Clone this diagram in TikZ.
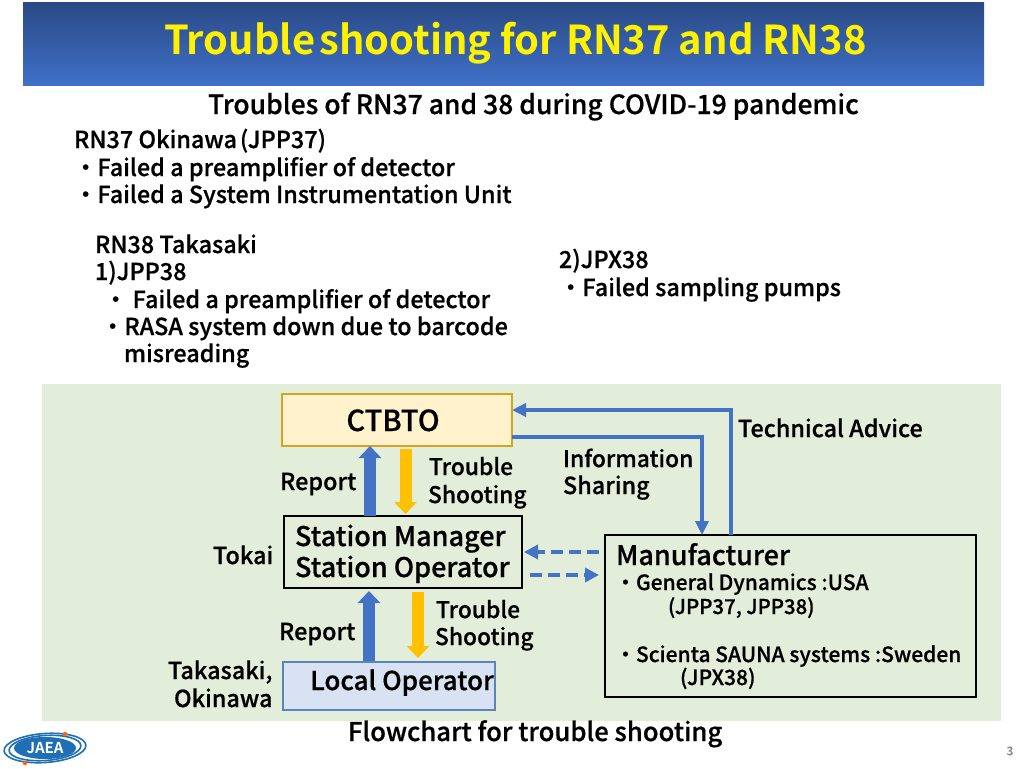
\documentclass[tikz,border=0pt]{standalone}
\usepackage{fontspec}
\setmainfont{Noto Sans CJK JP}[UprightFont=* Medium,BoldFont=* Bold,UprightFeatures={FakeBold=0.6}]
\usetikzlibrary{arrows.meta,shadings}
\definecolor{bandtop}{HTML}{2A4A86}
\definecolor{bandbot}{HTML}{3F70C8}
\definecolor{panel}{HTML}{E2EEDA}
\definecolor{arrowblue}{HTML}{4472C4}
\definecolor{arrowgold}{HTML}{FFC000}
\definecolor{ctfill}{HTML}{FFF2CC}
\definecolor{ctline}{HTML}{D6A520}
\definecolor{locfill}{HTML}{D9E2F3}
\definecolor{locline}{HTML}{5B84B8}
\definecolor{jaea}{HTML}{1F6FB5}
\tikzset{
  x=1pt,y=-1pt,
  every node/.style={inner sep=0pt,outer sep=0pt},
  txt/.style={anchor=base west,font=\fontsize{23.4}{23.4}\selectfont,text=black},
  txtn/.style={anchor=base west,font=\fontsize{22.8}{22.8}\selectfont,text=black},
  txtsm/.style={anchor=base west,font=\fontsize{21}{21}\selectfont,text=black},
  txtbig/.style={anchor=base west,font=\fontsize{27}{27}\selectfont,text=black},
  bigarrow/.style={line width=12pt,-{Triangle[width=22pt,length=12pt]}},
  thinarrow/.style={line width=4pt,arrowblue,-{Triangle[width=13pt,length=14pt]}},
  dasharrow/.style={line width=4.5pt,arrowblue,dash pattern=on 12pt off 6pt,-{Triangle[width=14pt,length=14pt]}},
  box/.style={draw=black,line width=1.6pt,anchor=north west},
}
\begin{document}
\begin{tikzpicture}
\useasboundingbox (0,0) rectangle (1024,768);
\fill[white] (0,0) rectangle (1024,768);
% title band
\shade[top color=bandtop,bottom color=bandbot] (23,3) rectangle (984,85);
\node[anchor=base west,text=yellow,font=\bfseries\fontsize{39.8}{39.8}\selectfont] (title) at (164,55) {Trouble\hspace{4pt}shooting for RN37 and RN38};
\node[txt,font=\fontsize{26.5}{26.5}\selectfont] (sub) at (208,114) {Troubles of RN37 and 38 during COVID-19 pandemic};
% trouble list
\node[txt] (a1) at (74,148) {RN37 Okinawa\hspace{3pt}(JPP37)};
\node[txt] (a2) at (74,176) {・Failed a preamplifier of detector};
\node[txt] (a3) at (74,203) {・Failed a System Instrumentation Unit};
\node[txt] (b1) at (95,253) {RN38 Takasaki};
\node[txt] (b2) at (95,280) {1)JPP38};
\node[txt] (b3) at (104,308) {・ Failed a preamplifier of detector};
\node[txt] (b4) at (101,335) {・RASA system down due to barcode};
\node[txt] (b5) at (124,362) {misreading};
\node[txt] (c1) at (559,268) {2)JPX38};
\node[txt] (c2) at (559,296) {・Failed sampling pumps};
% panel
\fill[panel] (42,384) rectangle (1001,721);
% boxes
\node[box,draw=ctline,fill=ctfill,minimum width=230pt,minimum height=52pt] (ct) at (282,394) {};
\node[anchor=base,font=\fontsize{29}{29}\selectfont] (cttext) at (393,431) {CTBTO};
\node[box,minimum width=238pt,minimum height=72pt] (sm) at (284,516) {};
\node[txtbig] (sm1) at (295,546) {Station Manager};
\node[txtbig] (sm2) at (295,577) {Station Operator};
\node[box,minimum width=371pt,minimum height=162pt] (mf) at (605,535) {};
\node[txtbig] (mf1) at (616,565) {Manufacturer};
\node[txtsm] (mf2) at (615,590) {・General Dynamics :USA};
\node[txtsm,font=\fontsize{20.4}{20.4}\selectfont] (mf3) at (668,614) {(JPP37, JPP38)};
\node[txtsm] (mf4) at (615,662) {・Scienta SAUNA systems :Sweden};
\node[txtsm] (mf5) at (680,685) {(JPX38)};
\node[box,draw=locline,fill=locfill,minimum width=212pt,minimum height=48pt] (lo) at (283,662) {};
\node[anchor=base,font=\fontsize{26}{26}\selectfont] (lotext) at (402,690) {Local Operator};
% labels
\node[txt] (l1) at (738,437) {Technical Advice};
\node[txtn] (l2) at (563,467) {Information};
\node[txt] (l3) at (563,494) {Sharing};
\node[txtn] (l4) at (429,475) {Trouble};
\node[txtn] (l5) at (428,503) {Shooting};
\node[txt] (l6) at (280,490) {Report};
\node[txt] (l7) at (213,564) {Tokai};
\node[txtn] (l8) at (436,618) {Trouble};
\node[txtn] (l9) at (435,645) {Shooting};
\node[txt] (l10) at (279,640) {Report};
\node[txt] (l11) at (168,679) {Takasaki,};
\node[txt] (l12) at (174,707) {Okinawa};
\node[txt,font=\fontsize{25.7}{25.7}\selectfont] (l13) at (348,741) {Flowchart for trouble shooting};
% connector reference points
\coordinate (up1) at (370,500);
\coordinate (dn1) at (405.5,500);
\coordinate (up2) at (369,620);
\coordinate (dn2) at (418,620);
\coordinate (tech) at (731,410);
\coordinate (info) at (702,437);
\coordinate (d1) at (560,552);
\coordinate (d2) at (560,575);
% connectors
\draw[bigarrow,arrowblue] (sm.north -| up1) -- (ct.south -| up1);
\draw[bigarrow,arrowgold,shorten <=3pt,shorten >=2pt] (ct.south -| dn1) -- (sm.north -| dn1);
\draw[bigarrow,arrowblue,shorten >=3pt,shorten <=1pt] (lo.north -| up2) -- (sm.south -| up2);
\draw[bigarrow,arrowgold,shorten <=4pt,shorten >=4pt] (sm.south -| dn2) -- (lo.north -| dn2);
\draw[thinarrow] (mf.north -| tech) -- (tech) -- (ct.east |- tech);
\draw[thinarrow] (ct.east |- info) -- (info) -- (mf.north -| info);
\draw[dasharrow,shorten <=6pt,shorten >=2pt] (mf.west |- d1) -- (sm.east |- d1);
\draw[dasharrow,shorten <=8pt,shorten >=6pt] (sm.east |- d2) -- (mf.west |- d2);
% logo
\draw[jaea,line width=1.6pt,rotate around={4:(45,748)}] (45,748) ellipse (41pt and 14.5pt);
\draw[jaea,line width=1.6pt,rotate around={4:(45,748)}] (45,748) ellipse (36pt and 12.5pt);
\fill[jaea] (45,748) ellipse (31pt and 11pt);
\fill[orange!80!red] (65,734) circle (2.2pt);
\fill[orange!80!red] (25,763) circle (2.2pt);
\node[text=white,font=\bfseries\fontsize{15}{15}\selectfont] (logo) at (45,748) {JAEA};
% page number
\node[text=black!45,font=\fontsize{12}{12}\selectfont] (pg) at (1010,751) {3};
\end{tikzpicture}
\end{document}
